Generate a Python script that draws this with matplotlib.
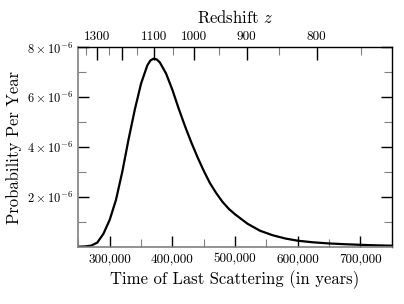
import numpy as np
import matplotlib
matplotlib.use("Agg")
import matplotlib.pyplot as plt
from matplotlib.ticker import FixedLocator, FuncFormatter

# ---- data ----
time_kyr = [250, 260, 270, 280, 290, 300, 310, 320, 330, 340, 350, 360, 365,
            370, 375, 380, 390, 400, 410, 420, 430, 440, 450, 460, 470, 480,
            490, 500, 520, 540, 560, 580, 600, 625, 650, 675, 700, 725, 750]
prob_e6 = [0.0, 0.01, 0.04, 0.16, 0.52, 1.08, 1.88, 3.0, 4.3, 5.5, 6.55, 7.28, 7.48,
           7.55, 7.52, 7.4, 6.95, 6.3, 5.55, 4.85, 4.2, 3.6, 3.05, 2.55, 2.15, 1.8,
           1.52, 1.3, 0.92, 0.64, 0.46, 0.33, 0.24, 0.175, 0.13, 0.1, 0.075, 0.055, 0.04]

x_major = [300000, 400000, 500000, 600000, 700000]
x_minor = [250000, 350000, 450000, 550000, 650000, 750000]
y_major = [2e-6, 4e-6, 6e-6, 8e-6]
y_minor = [1e-6, 3e-6, 5e-6, 7e-6]
z_major = [1300, 1200, 1100, 1000, 900, 800]
z_labels = {1300: "1300", 1100: "1100", 1000: "1000", 900: "900", 800: "800"}
z_minor = [1350, 1250, 1150, 1050, 950, 850, 750]

# cosmology relation t(z) (years), matter + radiation
A_EQ = 1.0 / 3400.0
K_YR = 1.7504e10

def t_of_z(z):
    a = 1.0 / (1.0 + np.asarray(z, dtype=float))
    return K_YR * (np.sqrt(a + A_EQ) * (a - 2 * A_EQ) + 2 * A_EQ ** 1.5)

_zgrid = np.linspace(200, 3000, 5000)
_tgrid = t_of_z(_zgrid)

def z_of_t(t):
    return np.interp(np.asarray(t, dtype=float), _tgrid[::-1], _zgrid[::-1])

plt.rcParams['font.family'] = ['cmr10', 'DejaVu Serif']
plt.rcParams['mathtext.fontset'] = 'cm'
plt.rcParams['axes.unicode_minus'] = False
plt.rcParams['axes.formatter.use_mathtext'] = True

fig = plt.figure(figsize=(4.04, 3.04), dpi=100)
ax = fig.add_axes([0.194, 0.1885, 0.7756, 0.6553])

t = np.array(time_kyr) * 1000.0
p = np.array(prob_e6) * 1e-6
ax.plot(t, p, color='black', lw=1.6, solid_joinstyle='round')

ax.set_xlim(250000, 750000)
ax.set_ylim(0, 8e-6)

gray = '#808080'
for s in ['left', 'bottom']:
    ax.spines[s].set_color(gray)
    ax.spines[s].set_linewidth(1.2)
for s in ['top', 'right']:
    ax.spines[s].set_color('black')
    ax.spines[s].set_linewidth(1.0)

ax.xaxis.set_major_locator(FixedLocator(x_major))
ax.xaxis.set_minor_locator(FixedLocator(x_minor))
ax.xaxis.set_major_formatter(FuncFormatter(lambda v, pos: '{:,}'.format(int(v))))
ax.yaxis.set_major_locator(FixedLocator(y_major))
ax.yaxis.set_minor_locator(FixedLocator(y_minor))
ax.yaxis.set_major_formatter(FuncFormatter(lambda v, pos: r'$%d\times10^{-6}$' % round(v * 1e6)))

ax.tick_params(axis='x', which='major', direction='in', length=8, width=1.0,
               color='black', labelsize=9.5, pad=5, top=False)
ax.tick_params(axis='x', which='minor', direction='in', length=5.5, width=0.8,
               color=gray, top=False)
ax.tick_params(axis='y', which='major', direction='in', length=8, width=1.0,
               color='black', labelsize=9, pad=4, right=True)
ax.tick_params(axis='y', which='minor', direction='in', length=5.5, width=0.8,
               color=gray, right=True)

ax.set_xlabel('Time of Last Scattering (in years)', fontsize=12, labelpad=3)
ax.set_ylabel('Probability Per Year', fontsize=12, labelpad=3)

sec = ax.secondary_xaxis('top', functions=(z_of_t, t_of_z))
sec.xaxis.set_major_locator(FixedLocator(z_major))
sec.xaxis.set_minor_locator(FixedLocator(z_minor))
sec.xaxis.set_major_formatter(FuncFormatter(lambda v, pos: z_labels.get(int(round(v)), '')))
sec.tick_params(axis='x', which='major', direction='in', length=9, width=1.0,
                color='black', labelsize=9.5, pad=3)
sec.tick_params(axis='x', which='minor', direction='in', length=5.5, width=0.8,
                color=gray)
sec.spines['top'].set_visible(False)
sec.set_xlabel(r'Redshift $z$', fontsize=12, labelpad=6)

fig.savefig('out.png', dpi=100)
